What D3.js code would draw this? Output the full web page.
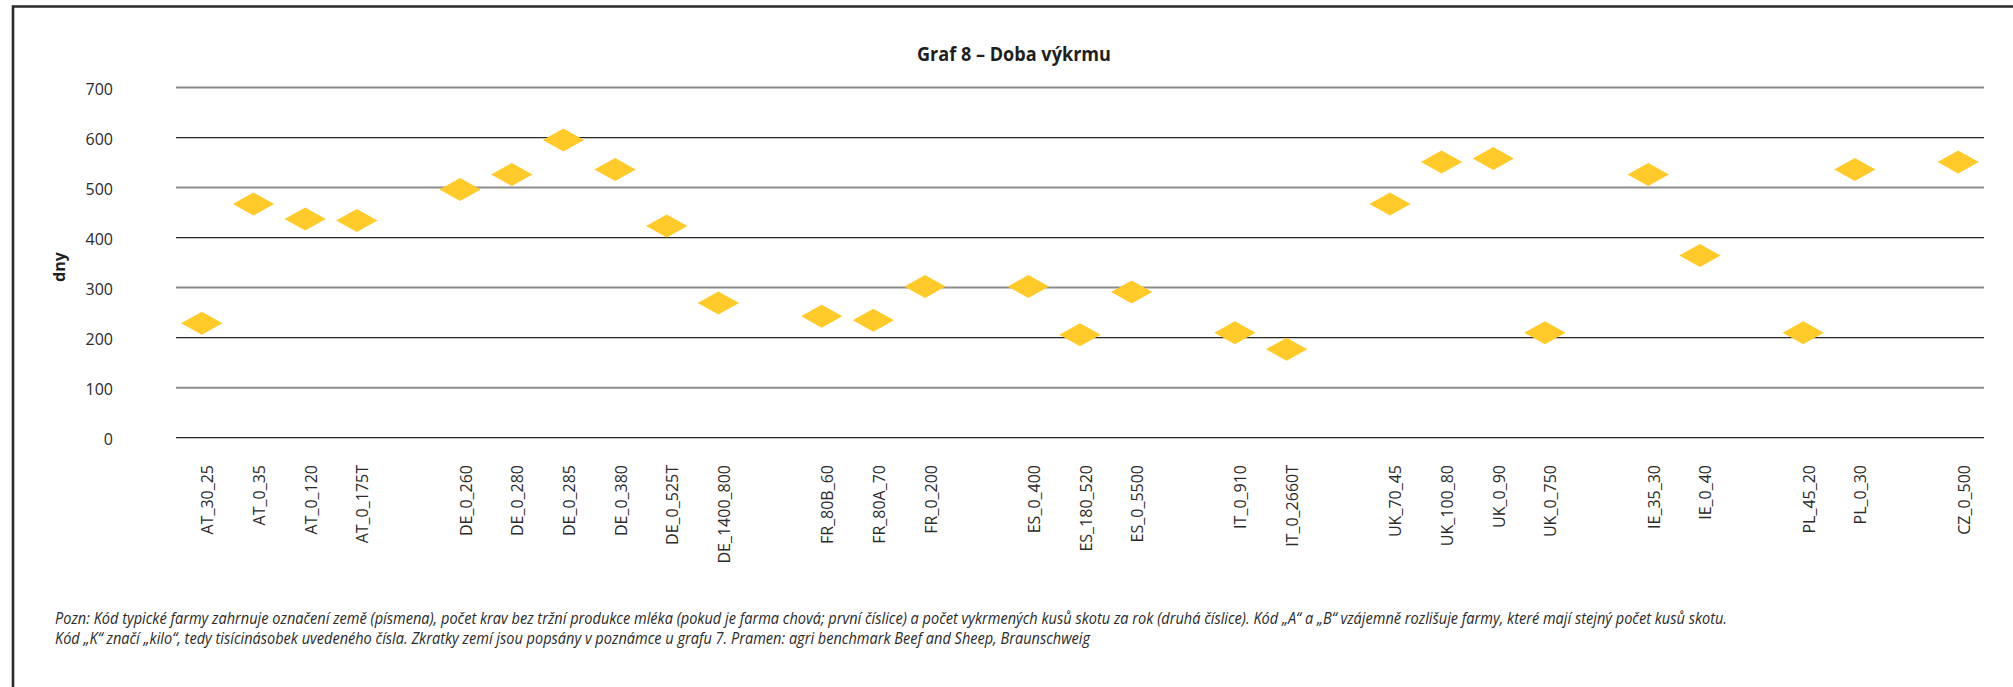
<!DOCTYPE html>
<html lang="cs">
<head>
<meta charset="utf-8">
<title>Graf 8 – Doba výkrmu</title>
<script src="https://cdn.jsdelivr.net/npm/d3@7"></script>
<style>
  html, body { margin: 0; padding: 0; background: #ffffff; }
  svg { display: block; }
</style>
</head>
<body>
<svg id="chart" width="2013" height="687"></svg>
<script>
// Typical farms (country code, suckler cows, finished cattle per year)
const farms = [
  "AT_30_25", "AT_0_35", "AT_0_120", "AT_0_175T",
  "DE_0_260", "DE_0_280", "DE_0_285", "DE_0_380", "DE_0_525T", "DE_1400_800",
  "FR_80B_60", "FR_80A_70", "FR_0_200",
  "ES_0_400", "ES_180_520", "ES_0_5500",
  "IT_0_910", "IT_0_2660T",
  "UK_70_45", "UK_100_80", "UK_0_90", "UK_0_750",
  "IE_35_30", "IE_0_40",
  "PL_45_20", "PL_0_30",
  "CZ_0_500"
];

// Fattening period in days, one value per farm
const days = [
  228, 466, 436, 433,
  495, 525, 594, 535, 422, 268,
  242, 234, 301,
  301, 205, 290,
  209, 176,
  466, 550, 557, 209,
  525, 363,
  209, 535,
  550
];

const yTicks = [0, 100, 200, 300, 400, 500, 600, 700];

const titleText = "Graf 8 – Doba výkrmu";
const yAxisLabel = "dny";
const noteLines = [
  "Pozn: Kód typické farmy zahrnuje označení země (písmena), počet krav bez tržní produkce mléka (pokud je farma chová; první číslice) a počet vykrmených kusů skotu za rok (druhá číslice). Kód „A“ a „B“ vzájemně rozlišuje farmy, které mají stejný počet kusů skotu.",
  "Kód „K“ značí „kilo“, tedy tisícinásobek uvedeného čísla. Zkratky zemí jsou popsány v poznámce u grafu 7. Pramen: agri benchmark Beef and Sheep, Braunschweig"
];

// ---- layout ----
const W = 2013, H = 687;
const plot = { left: 176, right: 1984, top: 87, bottom: 437.2 };
const FONT = "'Open Sans', 'Noto Sans', sans-serif";

const svg = d3.select("#chart");

// Category slots: an empty slot separates the countries
const slots = [];
farms.forEach((f, i) => {
  if (i > 0 && f.slice(0, 2) !== farms[i - 1].slice(0, 2)) slots.push("gap-" + i);
  slots.push(f);
});

const x = d3.scaleBand().domain(slots).range([plot.left, plot.right]).padding(0);
const y = d3.scaleLinear().domain([0, 700]).range([plot.bottom, plot.top]);

// Frame (top and left edges)
svg.append("path")
  .attr("d", `M${W},6.5 L13,6.5 L13,${H}`)
  .attr("fill", "none")
  .attr("stroke", "#2b2b2b")
  .attr("stroke-width", 2.6);

// Title
svg.append("text")
  .attr("x", 1014).attr("y", 61)
  .attr("text-anchor", "middle")
  .attr("font-family", FONT)
  .attr("font-weight", 700)
  .attr("font-size", 20)
  .attr("fill", "#1e1e1e")
  .attr("textLength", 194)
  .attr("lengthAdjust", "spacingAndGlyphs")
  .text(titleText);

// Y axis with horizontal gridlines
const yAxis = d3.axisLeft(y)
  .tickValues(yTicks)
  .tickSize(-(plot.right - plot.left))
  .tickPadding(63)
  .tickFormat(d3.format("d"));

const gy = svg.append("g")
  .attr("transform", `translate(${plot.left},0)`)
  .call(yAxis);
gy.select(".domain").remove();
gy.selectAll(".tick line")
  .attr("stroke", (d, i) => (i % 2 ? "#8c8c8c" : "#262626"))
  .attr("stroke-width", (d, i) => (i % 2 ? 2 : 1.2));
gy.selectAll(".tick text")
  .attr("font-family", FONT)
  .attr("font-size", 16)
  .attr("fill", "#2a2a2a")
  .attr("dy", "0.45em");

// Y axis title
svg.append("text")
  .attr("transform", "translate(65,267) rotate(-90)")
  .attr("text-anchor", "middle")
  .attr("font-family", FONT)
  .attr("font-weight", 700)
  .attr("font-size", 16)
  .attr("fill", "#1e1e1e")
  .text(yAxisLabel);

// Category labels, rotated
svg.append("g")
  .selectAll("text")
  .data(farms)
  .join("text")
  .attr("transform", d => `translate(${x(d) + x.bandwidth() / 2 + 11.5},465) rotate(-90)`)
  .attr("text-anchor", "end")
  .attr("font-family", FONT)
  .attr("font-size", 16)
  .attr("fill", "#2a2a2a")
  .text(d => d);

// Diamond markers
const halfW = x.bandwidth() * 0.4;
const halfH = 11.5;
const diamond = `M0,${-halfH}L${halfW},0L0,${halfH}L${-halfW},0Z`;

svg.append("g")
  .selectAll("path")
  .data(farms.map((f, i) => ({ farm: f, value: days[i] })))
  .join("path")
  .attr("transform", d => `translate(${x(d.farm) + x.bandwidth() / 2},${y(d.value)})`)
  .attr("d", diamond)
  .attr("fill", "#ffca2a");

// Footnote
svg.append("g")
  .selectAll("text")
  .data(noteLines)
  .join("text")
  .attr("x", 55)
  .attr("y", (d, i) => 624 + i * 20)
  .attr("font-family", FONT)
  .attr("font-style", "italic")
  .attr("font-size", 16)
  .attr("fill", "#2a2a2a")
  .attr("textLength", (d, i) => (i === 0 ? 1672 : 1035))
  .attr("lengthAdjust", "spacingAndGlyphs")
  .text(d => d);
</script>
</body>
</html>
